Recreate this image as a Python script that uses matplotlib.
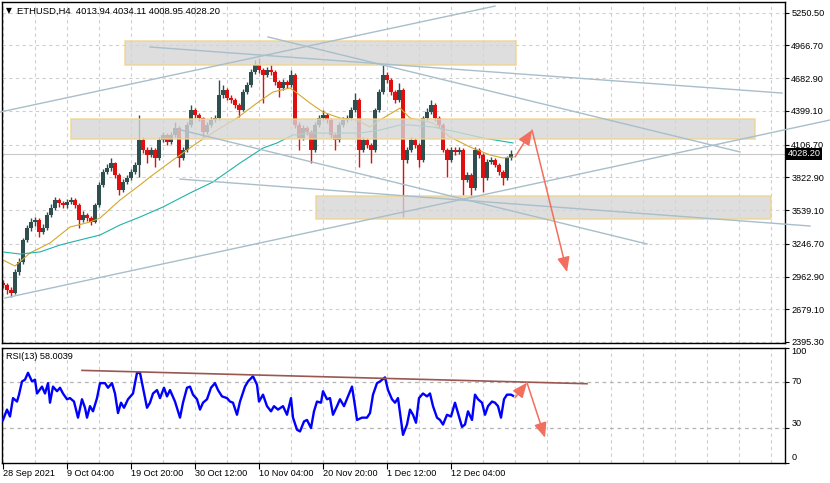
import matplotlib
matplotlib.use("Agg")
import matplotlib.pyplot as plt
import matplotlib.transforms as mtransforms
from matplotlib.patches import Rectangle

plt.rcParams['font.family'] = ['Liberation Sans', 'DejaVu Sans']
plt.rcParams['font.size'] = 6.6

# ---- data -------------------------------------------------------------
symbol = "ETHUSD,H4"
last_ohlc = "4013.94 4034.11 4008.95 4028.20"
bid = 4028.20
rsi_label = "RSI(13) 58.0039"

time_labels = ["28 Sep 2021", "9 Oct 04:00", "19 Oct 20:00", "30 Oct 12:00",
               "10 Nov 04:00", "20 Nov 20:00", "1 Dec 12:00", "12 Dec 04:00"]
price_ticks = [5250.5, 4966.7, 4682.9, 4399.1, 4106.7, 3822.9,
               3539.1, 3246.7, 2962.9, 2679.1, 2395.3]
price_labels = ["5250.50", "4966.70", "4682.90", "4399.10", "4106.70", "3822.90",
                "3539.10", "3246.70", "2962.90", "2679.10", "2395.30"]
rsi_ticks = [100, 70, 30, 0]

# candles, one every 4 H4 bars
first_open = 2907
closes = [2890, 2846, 2820, 3002, 3089, 3280, 3384, 3436, 3453, 3349,
          3384, 3496, 3557, 3626, 3600, 3583, 3609, 3626, 3583, 3453,
          3496, 3470, 3436, 3583, 3757, 3869, 3904, 3947, 3843, 3713,
          3783, 3817, 3869, 3930, 4147, 4060, 4017, 4060, 3991, 4147,
          4190, 4129, 4190, 4251, 3991, 4060, 4277, 4407, 4363, 4337,
          4216, 4277, 4320, 4337, 4537, 4580, 4511, 4493, 4450, 4407,
          4563, 4624, 4736, 4797, 4754, 4710, 4754, 4736, 4650, 4598,
          4650, 4624, 4710, 4277, 4164, 4251, 4216, 4060, 4277, 4337,
          4363, 4320, 4190, 4147, 4277, 4320, 4337, 4407, 4493, 4060,
          4147, 4103, 4060, 4407, 4563, 4710, 4667, 4563, 4493, 4580,
          3973, 4060, 4147, 4103, 3973, 4337, 4389, 4450, 4337, 4277,
          4060, 3973, 4060, 4043, 4060, 3800, 3843, 3730, 4060, 4017,
          3817, 3956, 3973, 3930, 3869, 3817, 3991, 4028.2]
highs = [2935, 2910, 2870, 3030, 3120, 3300, 3410, 3470, 3480, 3470,
         3420, 3520, 3590, 3652, 3640, 3620, 3635, 3650, 3640, 3600,
         3530, 3515, 3490, 3600, 3780, 3895, 3935, 3990, 3960, 3860,
         3810, 3845, 3895, 3960, 4363, 4170, 4085, 4090, 4075, 4170,
         4220, 4205, 4215, 4303, 4265, 4090, 4300, 4450, 4425, 4380,
         4350, 4300, 4345, 4365, 4667, 4620, 4600, 4540, 4515, 4470,
         4585, 4650, 4765, 4840, 4858, 4775, 4780, 4797, 4750, 4670,
         4675, 4670, 4754, 4725, 4300, 4275, 4270, 4235, 4300, 4360,
         4407, 4385, 4335, 4210, 4300, 4345, 4360, 4430, 4554, 4510,
         4170, 4165, 4120, 4425, 4585, 4797, 4735, 4680, 4580, 4641,
         4595, 4090, 4170, 4165, 4120, 4355, 4420, 4493, 4465, 4355,
         4290, 4080, 4085, 4085, 4090, 4075, 3870, 3860, 4086, 4080,
         4030, 3980, 4000, 3995, 3950, 3885, 4010, 4060]
lows = [2860, 2815, 2785, 2810, 2980, 3070, 3260, 3360, 3400, 3306,
        3330, 3370, 3480, 3540, 3570, 3555, 3560, 3590, 3560, 3384,
        3440, 3445, 3410, 3425, 3570, 3740, 3850, 3880, 3820, 3670,
        3700, 3765, 3800, 3850, 3826, 4030, 3947, 4000, 3913, 3975,
        4130, 4100, 4110, 4175, 3913, 3975, 4045, 4260, 4340, 4310,
        4173, 4200, 4260, 4300, 4320, 4515, 4490, 4470, 4425, 4346,
        4395, 4545, 4610, 4720, 4730, 4467, 4690, 4710, 4620, 4520,
        4580, 4600, 4605, 4250, 4060, 4145, 4190, 3947, 4045, 4260,
        4320, 4295, 4165, 4060, 4130, 4260, 4300, 4320, 4390, 3913,
        4040, 4080, 3947, 4045, 4390, 4545, 4640, 4540, 4470, 4475,
        3479, 3950, 4040, 4075, 3913, 3960, 4320, 4370, 4315, 4250,
        4040, 3826, 3955, 4020, 4025, 3670, 3780, 3644, 3715, 3995,
        3696, 3800, 3935, 3910, 3845, 3757, 3800, 3975]

# moving averages (bar index, price)
ma_fast_bar = [0, 12, 27, 47, 67, 87, 97, 117, 137, 147, 170, 194, 214, 234, 254, 270,
               287, 294, 307, 320, 337, 354, 367, 377, 397, 407, 430, 447, 467, 487, 500, 510]
ma_fast = [3106, 3054, 3167, 3254, 3392, 3436, 3470, 3626, 3757, 3826, 3973, 4121, 4233, 4337,
           4467, 4563, 4598, 4554, 4467, 4389, 4337, 4320, 4259, 4320, 4424, 4337, 4294, 4173,
           4086, 4017, 3991, 3999]
ma_slow_bar = [0, 17, 37, 57, 77, 97, 117, 137, 160, 187, 210, 237, 260, 274, 290, 307,
               334, 357, 377, 397, 407, 430, 454, 480, 510]
ma_slow = [3176, 3158, 3176, 3236, 3280, 3323, 3410, 3479, 3566, 3687, 3783, 3947, 4077,
           4121, 4190, 4207, 4207, 4207, 4233, 4277, 4277, 4259, 4216, 4164, 4121]

# RSI(13) (bar index, value)
rsi_bar = [0, 4, 7, 10, 14, 16, 19, 22, 25, 29, 32, 34, 39, 42, 45, 47, 50, 54, 57, 60,
           64, 67, 71, 75, 79, 82, 84, 87, 90, 94, 97, 102, 105, 109, 112, 115, 118, 121, 125, 130,
           134, 137, 140, 144, 147, 150, 154, 157, 161, 164, 167, 172, 177, 180, 184, 187, 190, 194, 197, 200,
           204, 208, 212, 215, 219, 224, 227, 230, 234, 237, 242, 245, 250, 254, 256, 260, 264, 268, 271, 275,
           280, 284, 288, 290, 294, 297, 301, 304, 308, 311, 314, 318, 320, 324, 327, 330, 334, 337, 341, 345,
           349, 352, 354, 359, 364, 367, 370, 374, 377, 382, 385, 389, 392, 395, 398, 400, 404, 407, 410, 413,
           416, 420, 424, 427, 430, 434, 437, 440, 444, 448, 452, 455, 459, 462, 465, 469, 472, 475, 479, 482,
           485, 489, 492, 495, 498, 501, 504, 508, 510]
rsi_val = [37, 46, 40, 56, 53, 59, 70.5, 72, 78, 70.5, 72, 60, 66, 60, 69, 52, 66, 62, 65, 60,
           55, 56, 53, 39, 55, 47.6, 39, 49, 44.5, 56, 69, 69, 65, 69, 60, 43, 52, 47.6, 55, 60,
           78, 78, 65, 47.6, 52, 60, 63, 56, 65, 57.5, 63, 53, 39, 52, 65, 66, 59, 55, 46, 52,
           55, 65, 69, 63, 57.5, 56, 53, 52, 41.5, 53, 66, 70.5, 75, 67.6, 53, 59, 49, 44.5, 49, 46,
           49, 41.5, 56, 39, 28.5, 27, 35.7, 37, 30, 44.5, 53, 52, 62, 55, 56, 41.5, 49, 55, 49, 57.5,
           66, 49, 37, 39, 39, 43, 59, 69, 70.5, 74, 63, 55, 52, 56, 37, 24, 33, 46, 41.5, 34.6,
           56, 60, 57.5, 60, 49, 39, 37, 33, 41.5, 40, 52, 43, 31, 33, 44.5, 37, 59, 55, 52, 41.5,
           49, 53, 52, 49, 39, 55, 59, 59, 58]

# analysis objects drawn on the chart
zones = [  # (start bar, end bar, low price, high price)
    (122, 513, 4797, 5007),
    (68, 752, 4155, 4329),
    (313, 768, 3462, 3661),
]
trend_lines = [  # ((bar, price), (bar, price))
    ((-3, 4389), (492, 5308)),
    ((147, 4953), (779, 4554)),
    ((265, 5040), (737, 4043)),
    ((2, 2777), (827, 4320)),
    ((177, 3808), (807, 3401)),
    ((174, 4242), (644, 3245)),
]
price_arrows = [((512, 3999), (529, 4233)), ((529, 4233), (564, 3002))]
rsi_line = ((79, 80.1), (584, 68.5))
rsi_arrows = [((512, 56.3), (524, 69.4)), ((524, 69.4), (542, 21.6))]

# ---- figure -------------------------------------------------------------
W, H = 830, 483
fig = plt.figure(figsize=(W / 100, H / 100), dpi=100)
ax = fig.add_axes([2 / W, 1 - 343 / H, 783 / W, 341 / H])
axr = fig.add_axes([2 / W, 1 - 462.5 / H, 783 / W, 115 / H], sharex=ax)

bull_c, bear_c = '#2F4F4F', '#E00F0F'
line_c = '#A8BECA'
arrow_c = '#F26E5E'
grid_c = '#CFCFCF'

# candles
opens = [first_open] + closes[:-1]
cbar = list(range(0, 4 * len(closes), 4))
for x, o, h, l, c in zip(cbar, opens, highs, lows, closes):
    col = bull_c if c >= o else bear_c
    ax.vlines(x, l, h, color=col, lw=1.0, zorder=2)
    ax.bar(x, max(abs(c - o), 10), bottom=min(o, c), width=3.2, color=col,
           linewidth=0, zorder=2)

ax.plot(ma_fast_bar, ma_fast, color='#D4A62A', lw=0.8, zorder=2.5)
ax.plot(ma_slow_bar, ma_slow, color='#20B2AA', lw=0.8, zorder=2.5)

for x0, x1, y0, y1 in zones:
    ax.add_patch(Rectangle((x0, y0), x1 - x0, y1 - y0, facecolor='#D6D6D6',
                           edgecolor='#F0D48E', lw=1.2, alpha=0.8, zorder=3))

for (x0, y0), (x1, y1) in trend_lines:
    ax.plot([x0, x1], [y0, y1], color=line_c, lw=1.0, zorder=4, clip_on=False)

ax.axhline(bid, color='#C8C8C8', lw=0.8, zorder=1.5)


def arrow(a, p0, p1):
    a.annotate('', xy=p1, xytext=p0, annotation_clip=False, zorder=6,
               arrowprops=dict(arrowstyle='-|>,head_length=0.9,head_width=0.38',
                               color=arrow_c, lw=1.1, shrinkA=0, shrinkB=0,
                               mutation_scale=10))


for p0, p1 in price_arrows:
    arrow(ax, p0, p1)

# RSI panel
axr.plot(rsi_bar, rsi_val, color='#0000FF', lw=1.7, zorder=3)
axr.plot([rsi_line[0][0], rsi_line[1][0]], [rsi_line[0][1], rsi_line[1][1]],
         color='#9A5752', lw=1.2, zorder=4)
for p0, p1 in rsi_arrows:
    arrow(axr, p0, p1)
for lvl in (70, 30):
    axr.axhline(lvl, color='#B4B4B4', lw=0.9, ls=(0, (3, 3)), zorder=1)

# axes, ticks, grids
ax.set_xlim(-1, 782)
ax.set_ylim(2386.6, 5343.3)
axr.set_ylim(0, 100)

for a in (ax, axr):
    a.set_xticks(range(0, 449, 64))
    a.set_xticks(range(0, 782, 32), minor=True)
    a.grid(True, which='both', axis='x', color=grid_c, lw=0.8, ls=(0, (3, 3)))
    a.set_axisbelow(True)
    a.yaxis.tick_right()
    a.tick_params(axis='y', direction='out', length=3, pad=1.5, width=0.8,
                  labelsize=6.6, colors='black')
    for s in a.spines.values():
        s.set_linewidth(1.0)
        s.set_color('black')

ax.set_yticks(price_ticks)
ax.set_yticklabels(price_labels)
ax.grid(True, axis='y', color=grid_c, lw=0.8, ls=(0, (3, 3)))
ax.tick_params(axis='x', which='both', length=0, labelbottom=False)

axr.set_yticks(rsi_ticks)
axr.set_yticklabels([str(t) for t in rsi_ticks])
for lbl, va in zip(axr.get_yticklabels(), ['top', 'center', 'bottom', 'bottom']):
    lbl.set_verticalalignment(va)
axr.set_xticklabels(time_labels)
axr.tick_params(axis='x', which='major', direction='out', length=4, width=0.8,
                pad=1, labelsize=6.6)
axr.tick_params(axis='x', which='minor', length=0)
for lbl in axr.get_xticklabels():
    lbl.set_horizontalalignment('left')

# texts
ax.text(4 / 783, 1 - 9 / 341, "\u25bc", transform=ax.transAxes, fontsize=5.5,
        family='DejaVu Sans', va='center', ha='left', zorder=7)
ax.text(15 / 783, 1 - 9 / 341, symbol + "  " + last_ohlc, transform=ax.transAxes,
        fontsize=6.8, va='center', ha='left', zorder=7)
axr.text(4 / 783, 1 - 9 / 115, rsi_label, transform=axr.transAxes,
         fontsize=6.6, va='center', ha='left', zorder=7)

tr = mtransforms.blended_transform_factory(ax.transAxes, ax.transData)
ax.text(1.0035, bid, "4028.20", transform=tr, color='white', fontsize=6.6,
        va='center', ha='left', clip_on=False, zorder=8,
        bbox=dict(facecolor='black', edgecolor='none', pad=1.2))

fig.savefig("out.png", dpi=100)
